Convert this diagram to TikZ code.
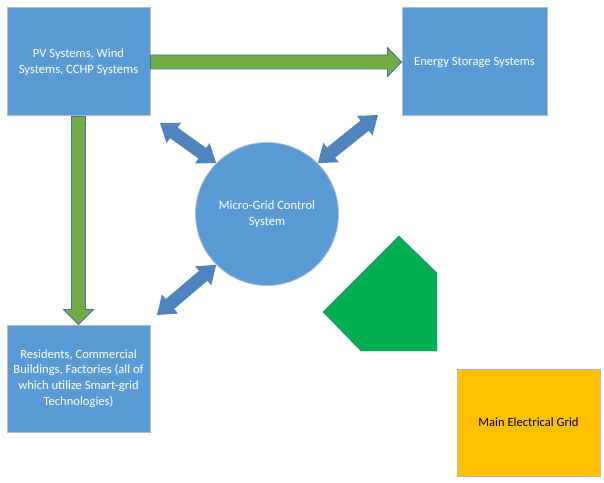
\documentclass[tikz,border=0pt]{standalone}
\usepackage{fontspec}
\setmainfont{Carlito}
\usetikzlibrary{calc}
\definecolor{boxblue}{HTML}{5B9BD5}
\definecolor{boxedge}{HTML}{B4BCC6}
\definecolor{arrowblue}{HTML}{4F84BD}
\definecolor{arrowgreen}{HTML}{70AD47}
\definecolor{arrowedge}{HTML}{41719C}
\definecolor{pentgreen}{HTML}{00B050}
\definecolor{gridorange}{HTML}{FFC000}
\begin{document}
\begin{tikzpicture}[x=1pt,y=1pt,font=\fontsize{12.6}{15.6}\selectfont,
  bluebox/.style={draw=boxedge, fill=boxblue, text=white, minimum width=143pt, minimum height=108pt, align=center, inner sep=0pt, line width=1pt},
  garrow/.style={fill=arrowgreen, draw=arrowedge, line width=0.8pt, line join=miter},
  pics/dblarrow/.style={code={\fill[arrowblue] (0,0) -- (17,12.5) -- (17,6.5) -- ({#1-17},6.5) -- ({#1-17},12.5) -- (#1,0) -- ({#1-17},-12.5) -- ({#1-17},-6.5) -- (17,-6.5) -- (17,-12.5) -- cycle;}}]
\useasboundingbox (0,0) rectangle (604,482);
\node[bluebox] (pv) at (78.5,420) {PV Systems, Wind\\Systems, CCHP Systems};
\node[bluebox, minimum width=145pt] (ess) at (474.5,420) {Energy Storage Systems};
\node[bluebox, minimum height=107pt] (res) at (78.5,103.5) {Residents, Commercial\\Buildings, Factories (all of\\which utilize Smart-grid\\Technologies)};
\node[circle, fill=boxblue, draw=boxedge, line width=0.8pt, minimum size=143pt, text=white, align=center, inner sep=0pt] (mgc) at (267,268) {Micro-Grid Control\\System};
\node[draw=boxedge, line width=1pt, fill=gridorange, minimum width=143pt, minimum height=107pt, inner sep=0pt] (grid) at (528.5,59.5) {Main Electrical Grid};
\filldraw[fill=pentgreen, draw=arrowedge, line width=0.4pt] (399,246) -- (437,209) -- (437,131) -- (361,131) -- (323,170) -- cycle;
% green arrows
\draw[garrow] ($(pv.east)+(0,7)$) -- ($(ess.west)+(-14,7)$) -- ($(ess.west)+(-14,14.5)$) -- (ess.west) -- ($(ess.west)+(-14,-14.5)$) -- ($(ess.west)+(-14,-7)$) -- ($(pv.east)+(0,-7)$) -- cycle;
\draw[garrow] ($(pv.south)+(-7,0)$) -- ($(res.north)+(-7,15)$) -- ($(res.north)+(-15,15)$) -- (res.north) -- ($(res.north)+(15,15)$) -- ($(res.north)+(7,15)$) -- ($(pv.south)+(7,0)$) -- cycle;
% blue double arrows
\coordinate (a1) at (160,359);
\coordinate (a2) at (378,367);
\coordinate (a3) at (157,167);
\path let \p1=(a1), \p2=(mgc.135), \n1={atan2(\y2-\y1,\x2-\x1)}, \n2={veclen(\x2-\x1,\y2-\y1)} in pic[rotate=\n1] at (\p1) {dblarrow=\n2};
\path let \p1=(mgc.45), \p2=(a2), \n1={atan2(\y2-\y1,\x2-\x1)}, \n2={veclen(\x2-\x1,\y2-\y1)} in pic[rotate=\n1] at (\p1) {dblarrow=\n2};
\path let \p1=(a3), \p2=(mgc.225), \n1={atan2(\y2-\y1,\x2-\x1)}, \n2={veclen(\x2-\x1,\y2-\y1)} in pic[rotate=\n1] at (\p1) {dblarrow=\n2};
\end{tikzpicture}
\end{document}
